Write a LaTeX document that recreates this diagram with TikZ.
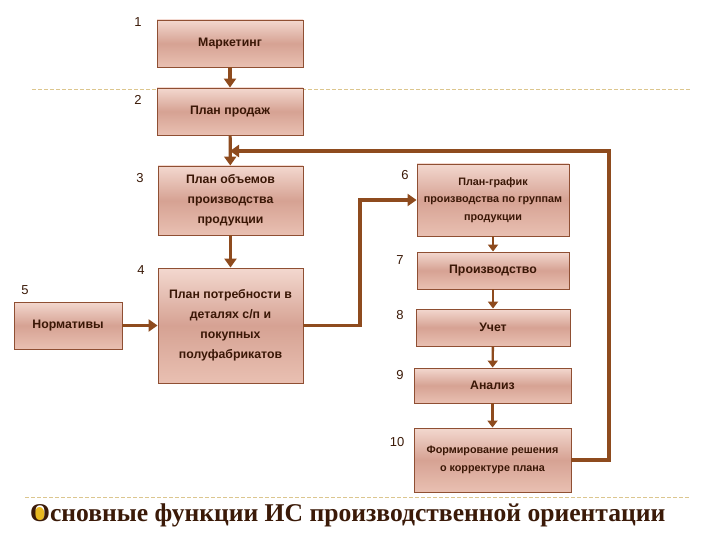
\documentclass[tikz,border=0pt]{standalone}
\usepackage{fontspec}
\setmainfont{Liberation Serif}
\newfontfamily\boxfont{Liberation Sans}
\usetikzlibrary{arrows.meta,shapes.geometric}
\definecolor{conn}{HTML}{8E4B1E}
\definecolor{boxline}{HTML}{8F4F33}
\definecolor{boxtext}{HTML}{3A1706}
\definecolor{ctop}{HTML}{F3D8CF}
\definecolor{cmid}{HTML}{D6A293}
\definecolor{cbot}{HTML}{E9C0B2}
\definecolor{dashc}{HTML}{DCC68E}
\definecolor{titlec}{HTML}{3B1A08}
\definecolor{goldc}{HTML}{E8B820}
\tikzset{
  fbox/.style={draw=boxline, line width=0.9pt, top color=ctop, bottom color=cbot, middle color=cmid,
    font=\boxfont\bfseries\fontsize{12.3}{20}\selectfont, text=boxtext, align=center, inner sep=2pt},
  smalltxt/.style={font=\boxfont\bfseries\fontsize{10.8}{17.5}\selectfont},
  num/.style={font=\boxfont\fontsize{13}{15}\selectfont, text=titlec},
  conline/.style={draw=conn, line width=3.2pt},
  arr/.style={conline, -{Triangle[length=9pt,width=12pt]}},
  sarr/.style={draw=conn, line width=2.4pt, -{Triangle[length=7pt,width=10pt]}},
  sep/.style={draw=dashc, line width=0.8pt, dash pattern=on 4pt off 2pt}
}
\begin{document}
\begin{tikzpicture}[x=1pt,y=-1pt]
\useasboundingbox (0,0) rectangle (720,540);
\fill[white] (0,0) rectangle (720,540);
% separators
\coordinate (s1a) at (32,89); \coordinate (s1b) at (690,89);
\coordinate (s2a) at (25,497); \coordinate (s2b) at (690,497);
\draw[sep] (s1a) -- (s1b);
\draw[sep] (s2a) -- (s2b);
% boxes
\node[fbox, minimum width=146pt, minimum height=47pt] (b1) at (230,43.5) {Маркетинг};
\node[fbox, minimum width=146pt, minimum height=47pt] (b2) at (230,111.5) {План продаж};
\node[fbox, minimum width=145pt, minimum height=69pt] (b3) at (230.5,200.5) {План объемов\\производства\\продукции};
\node[fbox, minimum width=145pt, minimum height=115pt] (b4) at (230.5,325.5) {План потребности в\\деталях с/п и\\покупных\\полуфабрикатов};
\node[fbox, minimum width=108pt, minimum height=47pt] (b5) at (68,325.5) {Нормативы};
\node[fbox, smalltxt, minimum width=152pt, minimum height=72pt] (b6) at (493,200) {План-график\\производства по группам\\продукции};
\node[fbox, minimum width=152pt, minimum height=37pt] (b7) at (493,270.5) {Производство};
\node[fbox, minimum width=154pt, minimum height=37pt] (b8) at (493,327.5) {Учет};
\node[fbox, minimum width=157pt, minimum height=35pt] (b9) at (492.5,385.5) {Анализ};
\node[fbox, smalltxt, minimum width=157pt, minimum height=64pt] (b10) at (492.5,460) {Формирование решения\\о корректуре плана};
% numbers
\node[num] (n1) at (138,22) {1};
\node[num] (n2) at (138,100) {2};
\node[num] (n3) at (140,178) {3};
\node[num] (n4) at (141,270) {4};
\node[num] (n5) at (25,290) {5};
\node[num] (n6) at (405,175) {6};
\node[num] (n7) at (400,260) {7};
\node[num] (n8) at (400,315) {8};
\node[num] (n9) at (400,375) {9};
\node[num] (n10) at (397,442) {10};
% connectors
\draw[arr] (b1) -- (b2);
\draw[arr] (b2) -- (b3);
\draw[arr] (b3) -- (b4);
\draw[arr] (b5) -- (b4);
\draw[sarr] (b6) -- (b7);
\draw[sarr] (b7) -- (b8);
\draw[sarr] (b8) -- (b9);
\draw[sarr] (b9) -- (b10);
\coordinate (k1) at (360,325.5);
\draw[arr] (b4.east) -- (k1) |- (b6.west);
\coordinate (fb1) at (609,460);
\coordinate (fb2) at (609,151);
\coordinate (fbend) at (230,151);
\draw[arr] (b10.east) -- (fb1) -- (fb2) -- (fbend);
% title
\node[ellipse, fill=goldc, minimum width=10pt, minimum height=14pt, inner sep=0pt] (dot) at (39.5,514) {};
\node[anchor=west, text=titlec, font=\bfseries\fontsize{25.6}{28}\selectfont, inner sep=0pt] (title) at (30,515) {Основные функции ИС производственной ориентации};
\end{tikzpicture}
\end{document}
